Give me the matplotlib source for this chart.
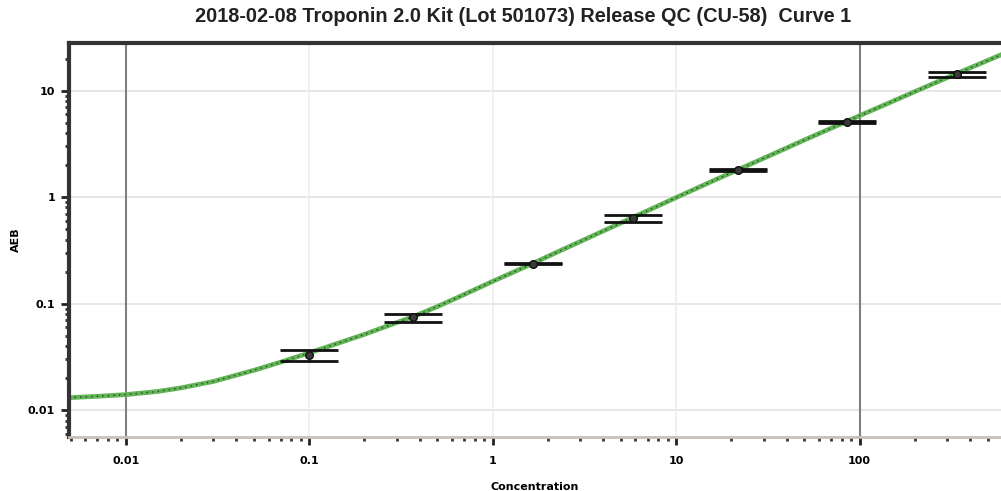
#!/usr/bin/env python3
import matplotlib
matplotlib.use('Agg')
import matplotlib.pyplot as plt
from matplotlib.ticker import LogLocator, FixedLocator, NullFormatter

# Calibrator points (concentration vs AEB)
conc = [0.1, 0.369, 1.65, 5.79, 21.6, 85.0, 338.0]
aeb = [0.0328, 0.0742, 0.238, 0.636, 1.79, 5.12, 14.3]
aeb_err = [0.0039, 0.0064, 0.004, 0.048, 0.03, 0.1, 0.8]

# Fitted curve
curve_x = [0.0049, 0.007, 0.01, 0.015, 0.02, 0.03, 0.05, 0.07, 0.1, 0.15,
           0.2, 0.3, 0.369, 0.5, 0.7, 1.0, 1.65, 2.0, 3.0, 5.0, 5.79, 10.0,
           15.0, 21.6, 35.0, 50.0, 85.0, 100.0, 150.0, 200.0, 338.0, 590.0]
curve_y = [0.0131, 0.0135, 0.0140, 0.0150, 0.0162, 0.0186, 0.0237, 0.0283,
           0.0345, 0.0436, 0.0515, 0.0665, 0.0755, 0.0940, 0.122, 0.162,
           0.238, 0.278, 0.383, 0.573, 0.643, 0.991, 1.36, 1.80, 2.61, 3.44,
           5.14, 5.82, 7.88, 9.79, 14.45, 21.7]

x_ticks = [0.01, 0.1, 1, 10, 100]
x_tick_labels = ['0.01', '0.1', '1', '10', '100']
y_ticks = [0.01, 0.1, 1, 10]
y_tick_labels = ['0.01', '0.1', '1', '10']

title = '2018-02-08 Troponin 2.0 Kit (Lot 501073) Release QC (CU-58)  Curve 1'


def main():
    fig = plt.figure(figsize=(10.01, 4.91), dpi=100)
    ax = fig.add_axes([69 / 1001, 1 - 437 / 491, 1 - 69 / 1001, (437 - 43) / 491])
    ax.set_xscale('log')
    ax.set_yscale('log')
    ax.set_xlim(0.0049, 590)
    ax.set_ylim(0.0056, 28)

    # grid: faint everywhere, darker vertical lines at 0.01 and 100
    for y in y_ticks:
        ax.axhline(y, color='#e2e2e2', lw=1.2, zorder=0)
    for x in x_ticks:
        if x in (0.01, 100):
            ax.axvline(x, color='#808080', lw=1.5, zorder=0)
        else:
            ax.axvline(x, color='#ececec', lw=1.2, zorder=0)

    # fitted curve: green band with a dark dotted trace
    ax.plot(curve_x, curve_y, color='#62b556', lw=3.4, zorder=2)
    ax.plot(curve_x, curve_y, color='#2a3a2a', lw=1.0, ls=(0, (1, 3)), zorder=3)

    ax.errorbar(conc, aeb, yerr=aeb_err, fmt='o', color='#1a1a1a', ms=5.5,
                mfc='#3a3a3a', mec='#111111', ecolor='#111111',
                elinewidth=1, capsize=21, capthick=2, zorder=4)

    ax.xaxis.set_major_locator(FixedLocator(x_ticks))
    ax.set_xticklabels(x_tick_labels)
    ax.yaxis.set_major_locator(FixedLocator(y_ticks))
    ax.set_yticklabels(y_tick_labels)
    ax.xaxis.set_minor_locator(LogLocator(base=10, subs=range(2, 10)))
    ax.yaxis.set_minor_locator(LogLocator(base=10, subs=range(2, 10)))
    ax.xaxis.set_minor_formatter(NullFormatter())
    ax.yaxis.set_minor_formatter(NullFormatter())

    ax.tick_params(which='major', length=6, width=2, color='#222222',
                   labelsize=8, pad=4)
    ax.tick_params(axis='x', which='major', pad=8)
    ax.tick_params(which='minor', length=3, width=2, color='#333333')
    for lab in ax.get_xticklabels() + ax.get_yticklabels():
        lab.set_fontweight('bold')

    ax.spines['left'].set_linewidth(3)
    ax.spines['left'].set_color('#333333')
    ax.spines['top'].set_linewidth(3)
    ax.spines['top'].set_color('#333333')
    ax.spines['bottom'].set_linewidth(2)
    ax.spines['bottom'].set_color('#cbbdb8')
    ax.spines['right'].set_visible(False)

    ax.set_xlabel('Concentration', fontsize=8, fontweight='bold')
    ax.xaxis.set_label_coords(0.5, -0.115)
    ax.set_ylabel('AEB', fontsize=8, fontweight='bold')
    ax.yaxis.set_label_coords(-0.052, 0.5)

    fig.text(0.5225, 1 - 17 / 491, title, ha='center', va='center',
             fontsize=14.3, fontweight='bold', family='Liberation Sans',
             color='#222222')

    fig.savefig('out.png', dpi=100)
    plt.close(fig)


if __name__ == '__main__':
    main()
